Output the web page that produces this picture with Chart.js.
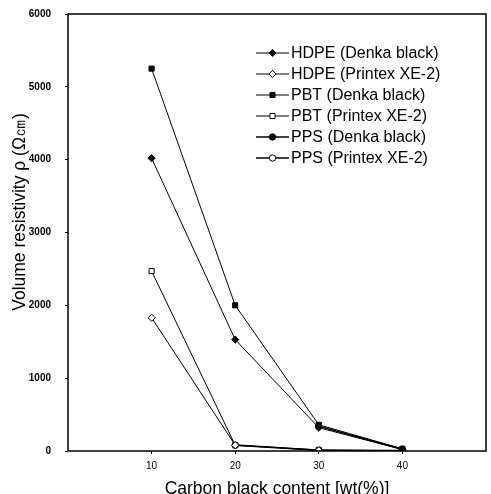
<!DOCTYPE html>
<html>
<head>
<meta charset="utf-8">
<script src="https://cdn.jsdelivr.net/npm/chart.js@4"></script>
<style>
html,body{margin:0;padding:0;background:#fff;}
#wrap{width:491px;height:494px;}
</style>
</head>
<body>
<div id="wrap"><canvas id="c" width="491" height="494"></canvas></div>
<script>
const content = [10, 20, 30, 40];
const xTicks = [10, 20, 30, 40];
const yTicks = [0, 1000, 2000, 3000, 4000, 5000, 6000];

const hdpeDenka   = [4020, 1530, 320, 20];
const hdpePrintex = [1830, 80, 10, 5];
const pbtDenka    = [5250, 2000, 360, 30];
const pbtPrintex  = [2470, 80, 15, 5];
const ppsDenka    = [null, null, 340, 25];
const ppsPrintex  = [null, 80, 10, 5];

const names = ['HDPE (Denka black)','HDPE (Printex XE-2)','PBT (Denka black)','PBT (Printex XE-2)','PPS (Denka black)','PPS (Printex XE-2)'];
const series = [hdpeDenka, hdpePrintex, pbtDenka, pbtPrintex, ppsDenka, ppsPrintex];
const styles = ['rectRot','rectRot','rect','rect','circle','circle'];
const filled = [true,false,true,false,true,false];
const widths = [1,1,1,1,1.6,1.6];
const yTitle = 'Volume resistivity ρ (Ω㎝)';

function pts(arr){ return content.map((x,i)=>({x:x, y:arr[i]})); }

const datasets = series.map((s,i)=>({
  label:names[i], data:pts(s), borderColor:'#000', borderWidth:widths[i],
  pointStyle:styles[i], pointRadius: styles[i]==='circle' ? 3.2 : 3.6,
  pointBackgroundColor: filled[i] ? '#000' : '#fff', pointBorderColor:'#000', pointBorderWidth:1,
  spanGaps:false, tension:0
}));

const frame = {
  id:'frame',
  afterDraw(chart){
    const {ctx, chartArea:a} = chart;
    ctx.save();
    ctx.strokeStyle='#000'; ctx.lineWidth=1.5;
    ctx.strokeRect(a.left, a.top, a.right-a.left, a.bottom-a.top);
    // y title, sits a bit above the plot centre like the original
    ctx.save();
    ctx.translate(20, 212); ctx.rotate(-Math.PI/2);
    ctx.font='17.5px "Liberation Sans", Arial, sans-serif';
    ctx.textAlign='center'; ctx.textBaseline='middle'; ctx.fillStyle='#000';
    ctx.fillText(yTitle, 0, 0);
    ctx.restore();
    // legend
    ctx.font='16px "Liberation Sans", Arial, sans-serif';
    ctx.textBaseline='middle'; ctx.fillStyle='#000';
    const x0=256, x1=289, tx=291, y0=53, dy=21;
    chart.data.datasets.forEach((d,i)=>{
      const y=y0+i*dy;
      ctx.lineWidth=d.borderWidth; ctx.strokeStyle='#000';
      ctx.beginPath(); ctx.moveTo(x0,y); ctx.lineTo(x1,y); ctx.stroke();
      ctx.lineWidth=1;
      ctx.fillStyle = d.pointBackgroundColor;
      Chart.helpers.drawPoint(ctx, {pointStyle:d.pointStyle, radius:d.pointRadius, borderWidth:1}, (x0+x1)/2, y);
      ctx.fillStyle='#000';
      ctx.fillText(d.label, tx, y+1);
    });
    ctx.restore();
  }
};

new Chart(document.getElementById('c'), {
  type:'line',
  data:{datasets:datasets},
  options:{
    responsive:false, animation:false,
    layout:{padding:{top:14,right:3,left:0,bottom:0}},
    plugins:{legend:{display:false}, tooltip:{enabled:false}},
    scales:{
      x:{type:'linear', min:0, max:50,
        afterBuildTicks:ax=>{ ax.ticks = xTicks.map(v=>({value:v})); },
        afterFit:ax=>{ ax.height=43; ax.paddingLeft=0; ax.paddingRight=0; },
        grid:{drawOnChartArea:false, tickLength:3, color:'#000'},
        border:{display:false},
        ticks:{color:'#000', padding:6, callback:v=>String(v), font:{size:10, family:'"Liberation Sans", Arial'}},
        title:{display:true, text:'Carbon black content [wt(%)]', color:'#000', padding:{top:0,bottom:-6}, font:{size:17.5, family:'"Liberation Sans", Arial'}}
      },
      y:{min:0, max:6000,
        afterBuildTicks:ax=>{ ax.ticks = yTicks.map(v=>({value:v})); },
        afterFit:ax=>{ ax.width=68; ax.paddingTop=0; ax.paddingBottom=0; },
        grid:{drawOnChartArea:false, tickLength:3, color:'#000'},
        border:{display:false},
        ticks:{color:'#000', padding:14, callback:v=>String(v), font:{size:10, weight:'bold', family:'"Liberation Sans Narrow", "Liberation Sans", Arial'}},
        title:{display:false}
      }
    }
  },
  plugins:[frame]
});
</script>
</body>
</html>
